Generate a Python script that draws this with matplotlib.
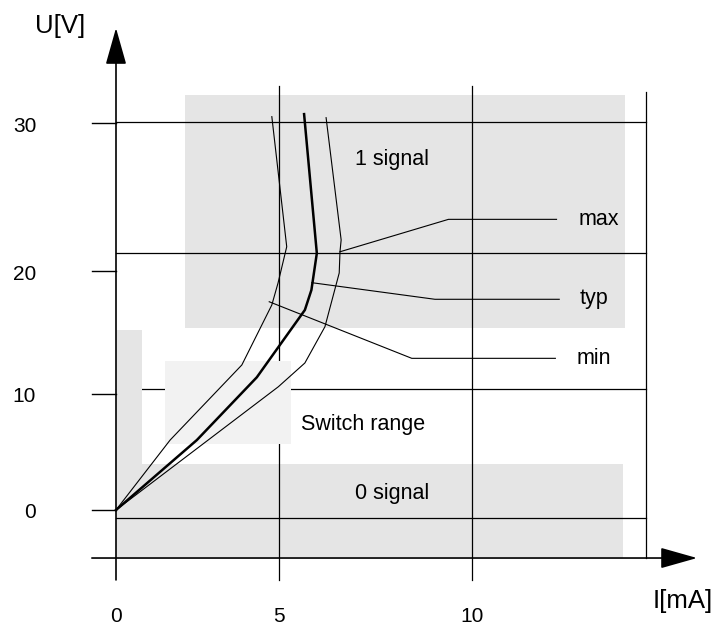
import numpy as np
import matplotlib
matplotlib.use("Agg")
import matplotlib.pyplot as plt
import matplotlib.patches as mpatches

plt.rcParams["font.family"] = ["Liberation Sans", "DejaVu Sans"]

# tick values
i_ticks = [0, 5, 10]
u_ticks = [0, 10, 20, 30]

# characteristic curves (I in mA, U in V)
i_min = [0, 1.66, 3.86, 4.78, 4.97, 5.20, 4.78]
u_min = [0, 6.03, 12.36, 17.24, 19.02, 21.64, 30.43]
i_typ = [0, 2.48, 4.32, 5.67, 5.84, 5.98, 5.65]
u_typ = [0, 6.03, 11.36, 16.83, 18.46, 21.20, 30.60]
i_max = [0, 4.98, 5.67, 6.19, 6.56, 6.58, 6.61, 6.22]
u_max = [0, 10.59, 12.52, 15.47, 19.84, 21.30, 22.10, 30.36]

# horizontal guide lines (V)
u_grid = [30.09, 21.22, 10.41, -0.66]

# ranges: (i_left, i_right, u_bottom, u_top)
range_1 = (2.12, 13.96, 15.37, 31.89)
range_0 = (0.0, 13.91, -4.14, 3.97)
range_left = (0.0, 0.80, 3.97, 15.20)
range_switch = (1.50, 5.31, 5.69, 12.68)

# leader lines for the curve labels
lead_max = ([6.58, 9.39, 12.19], [21.30, 23.49, 23.49])
lead_typ = ([5.85, 9.04, 12.26], [19.05, 17.70, 17.70])
lead_min = ([4.70, 8.44, 12.16], [17.50, 12.90, 12.90])

# the drawing is not linear: piecewise scale that puts the ticks where they are
W, H = 721, 628
x_data = [-5, 0, 5, 10, 20]
x_pos = [116 - 5 * 32.6, 116, 279, 472, 472 + 10 * 38.6]
y_data = [-15, 0, 10, 20, 30, 45]
y_pos = [H - (510 + 15 * 11.6), H - 510, H - 394, H - 271, H - 123, H - (123 - 15 * 14.8)]


def fx(v):
    return np.interp(v, x_data, x_pos)


def fx_inv(v):
    return np.interp(v, x_pos, x_data)


def fy(v):
    return np.interp(v, y_data, y_pos)


def fy_inv(v):
    return np.interp(v, y_pos, y_data)


fig = plt.figure(figsize=(W / 100, H / 100), dpi=100)
ax = fig.add_axes([0, 0, 1, 1])
ax.set_xscale("function", functions=(fx, fx_inv))
ax.set_yscale("function", functions=(fy, fy_inv))
ax.set_xlim(fx_inv(0), fx_inv(W))
ax.set_ylim(fy_inv(0), fy_inv(H))
ax.axis("off")

grey = "#e5e5e5"
for (x0, x1, y0, y1) in [range_1, range_0]:
    ax.add_patch(mpatches.Rectangle((x0, y0), x1 - x0, y1 - y0, fc=grey, ec="none", zorder=1))

# guide lines
x_right = 14.51
for u in u_grid:
    ax.plot([0, x_right], [u, u], color="black", lw=0.9, zorder=2)
for i in i_ticks[1:]:
    ax.plot([i, i], [-6.03, 32.5], color="black", lw=0.9, zorder=2)
ax.plot([x_right, x_right], [-4.14, 32.09], color="black", lw=0.9, zorder=2)

x0, x1, y0, y1 = range_left
ax.add_patch(mpatches.Rectangle((x0, y0), x1 - x0, y1 - y0, fc=grey, ec="none", zorder=3))
x0, x1, y0, y1 = range_switch
ax.add_patch(mpatches.Rectangle((x0, y0), x1 - x0, y1 - y0, fc="#f2f2f2", ec="none", zorder=3))

# axes with arrows
arrow = dict(arrowstyle="-|>,head_length=2.3,head_width=0.65", mutation_scale=10,
             lw=1.2, color="black", shrinkA=0, shrinkB=0)
ax.annotate("", xy=(0, 36.42), xytext=(0, -6.03), arrowprops=arrow, zorder=5)
ax.annotate("", xy=(15.83, -4.14), xytext=(-0.74, -4.14), arrowprops=arrow, zorder=5)

for u in u_ticks:
    ax.plot([-0.74, 0], [u, u], color="black", lw=1.0, zorder=5)
    ax.text(-2.45, u - 0.25, str(u), ha="right", va="center", fontsize=15)
for i in i_ticks:
    ax.text(i, -9.14, str(i), ha="center", va="center", fontsize=15)

ax.text(-1.72, 36.55, "U[V]", ha="center", va="center", fontsize=18.5)
ax.text(15.47, -7.84, "I[mA]", ha="center", va="center", fontsize=18.5)

# curves
ax.plot(i_min, u_min, color="black", lw=0.8, zorder=6)
ax.plot(i_max, u_max, color="black", lw=0.8, zorder=6)
ax.plot(i_typ, u_typ, color="black", lw=1.8, zorder=6)

for lx, ly in [lead_max, lead_typ, lead_min]:
    ax.plot(lx, ly, color="black", lw=0.8, zorder=6)

ax.text(12.75, 23.1, "max", ha="left", va="baseline", fontsize=15.5)
ax.text(12.80, 17.3, "typ", ha="left", va="baseline", fontsize=15.5)
ax.text(12.72, 12.44, "min", ha="left", va="baseline", fontsize=15.5)
ax.text(6.97, 27.16, "1 signal", ha="left", va="baseline", fontsize=15.5)
ax.text(6.97, 0.95, "0 signal", ha="left", va="baseline", fontsize=15.5)
ax.text(5.57, 6.9, "Switch range", ha="left", va="baseline", fontsize=15.5, zorder=7)

fig.savefig("out.png", dpi=100)
